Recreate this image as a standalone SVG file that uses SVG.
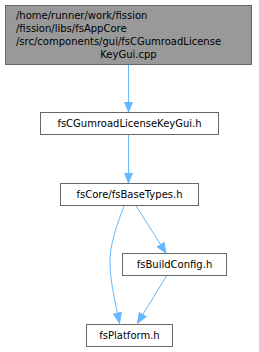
<svg xmlns="http://www.w3.org/2000/svg" width="259" height="352" viewBox="0 0 259 352">
<style>
.node rect{fill:#ffffff;stroke:#666666;stroke-width:1}
.node.main rect{fill:#999999}
text{font-family:"DejaVu Sans","Liberation Sans",sans-serif;font-size:10px;fill:#000000}
.edge{fill:none;stroke:#63b8ff;stroke-width:1;marker-end:url(#arr)}
</style>
<defs>
<marker id="arr" markerUnits="userSpaceOnUse" markerWidth="12" markerHeight="10" refX="10.5" refY="4.5" orient="auto">
<path d="M0.5,0.5 L10.5,4.5 L0.5,8.5 z" fill="#63b8ff" stroke="#63b8ff" stroke-width="1"/>
</marker>
</defs>
<g id="connectors">
<path class="edge" d="M128.5,65 L128.5,112"/>
<path class="edge" d="M128.5,134 L128.5,183"/>
<path class="edge" d="M124.5,205 C117,224 109,246 110,266 C111,286 116,306 119.5,323"/>
<path class="edge" d="M135.5,205 L166,253"/>
<path class="edge" d="M166.5,276 L137.5,323"/>
</g>
<g id="node1" class="node main">
<rect x="5.5" y="5.5" width="246" height="59"/>
<text x="16" y="19">/home/runner/work/fission</text>
<text x="16" y="32">/fission/libs/fsAppCore</text>
<text x="16" y="45">/src/components/gui/fsCGumroadLicense</text>
<text x="128.5" y="58" text-anchor="middle">KeyGui.cpp</text>
</g>
<g id="node2" class="node">
<rect x="40.5" y="112.5" width="178" height="22"/>
<text x="129.5" y="127" text-anchor="middle">fsCGumroadLicenseKeyGui.h</text>
</g>
<g id="node3" class="node">
<rect x="60.5" y="183.5" width="138" height="22"/>
<text x="129.5" y="198" text-anchor="middle">fsCore/fsBaseTypes.h</text>
</g>
<g id="node4" class="node">
<rect x="122.5" y="253.5" width="104" height="22"/>
<text x="174.5" y="268" text-anchor="middle">fsBuildConfig.h</text>
</g>
<g id="node5" class="node">
<rect x="86.5" y="324.5" width="86" height="22"/>
<text x="129.5" y="339" text-anchor="middle">fsPlatform.h</text>
</g>
</svg>
